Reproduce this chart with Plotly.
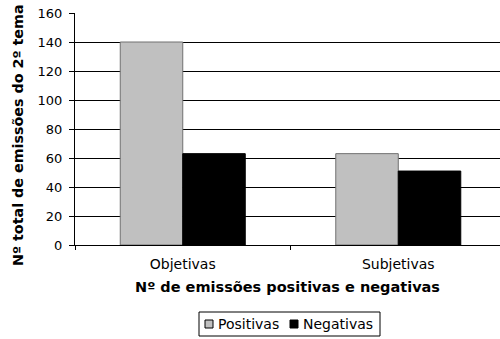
import plotly.graph_objects as go

categories = ["Objetivas", "Subjetivas"]
positivas = [140, 63]
negativas = [63, 51]
y_ticks = [0, 20, 40, 60, 80, 100, 120, 140, 160]
series_names = ["Positivas", "Negativas"]
series_colors = ["#C0C0C0", "#000000"]
series_edges = ["#707070", "#000000"]

W, H = 500, 339
L, R, T, B = 75, 0, 13, 94
PW, PH = W - L - R, H - T - B

font_family = "DejaVu Sans, Verdana, sans-serif"


def px(x):
    """Horizontal pixel -> paper coordinate."""
    return (x - L) / PW


def py(y):
    """Vertical pixel (from top) -> paper coordinate."""
    return (H - B - y) / PH


fig = go.Figure()
for name, vals, col, edge in zip(series_names, [positivas, negativas],
                                 series_colors, series_edges):
    fig.add_trace(go.Bar(
        name=name, x=categories, y=vals,
        marker=dict(color=col, line=dict(color=edge, width=1)),
        showlegend=False,
    ))

# Boxed legend below the axis title
shapes = [dict(type="rect", xref="paper", yref="paper",
               x0=px(199), x1=px(380), y0=py(312), y1=py(336),
               line=dict(color="black", width=1), fillcolor="white")]
annotations = []
legend_items = [(205, 216), (290, 301)]
for (sq_x, tx_x), name, col in zip(legend_items, series_names, series_colors):
    shapes.append(dict(type="rect", xref="paper", yref="paper",
                       x0=px(sq_x), x1=px(sq_x + 8), y0=py(320), y1=py(328),
                       line=dict(color="black", width=1), fillcolor=col))
    annotations.append(dict(text=name, xref="paper", yref="paper",
                            x=px(tx_x), y=py(324), xanchor="left", yanchor="middle",
                            showarrow=False, font=dict(size=14)))

# Axis titles
annotations.append(dict(text="<b>Nº de emissões positivas e negativas</b>",
                        xref="paper", yref="paper", x=0.5, y=py(287),
                        xanchor="center", yanchor="middle", showarrow=False,
                        font=dict(size=14.5)))
annotations.append(dict(text="<b>Nº total de emissões do 2º tema</b>",
                        xref="paper", yref="paper", x=px(18), y=py(135),
                        xanchor="center", yanchor="middle", showarrow=False,
                        textangle=-90, font=dict(size=14.3)))

fig.update_layout(
    width=W, height=H,
    margin=dict(l=L, r=R, t=T, b=B, autoexpand=False),
    paper_bgcolor="white", plot_bgcolor="white",
    barmode="group", bargap=0.42, bargroupgap=0,
    font=dict(family=font_family, size=13, color="black"),
    showlegend=False,
    shapes=shapes,
    annotations=annotations,
    xaxis=dict(
        range=[-0.5, 1.472], automargin=False,
        showline=True, linecolor="black", linewidth=1,
        ticks="outside", tickson="boundaries", ticklen=4, tickcolor="black",
        tickfont=dict(size=14), ticklabelstandoff=6,
        showgrid=False,
    ),
    yaxis=dict(
        range=[0, 160], tickvals=y_ticks, automargin=False,
        showline=True, linecolor="black", linewidth=1,
        ticks="outside", ticklen=5, tickcolor="black",
        tickfont=dict(size=13), ticklabelstandoff=4,
        showgrid=True, gridcolor="black", gridwidth=1,
        zeroline=False,
    ),
)

fig.write_html("out.html")
